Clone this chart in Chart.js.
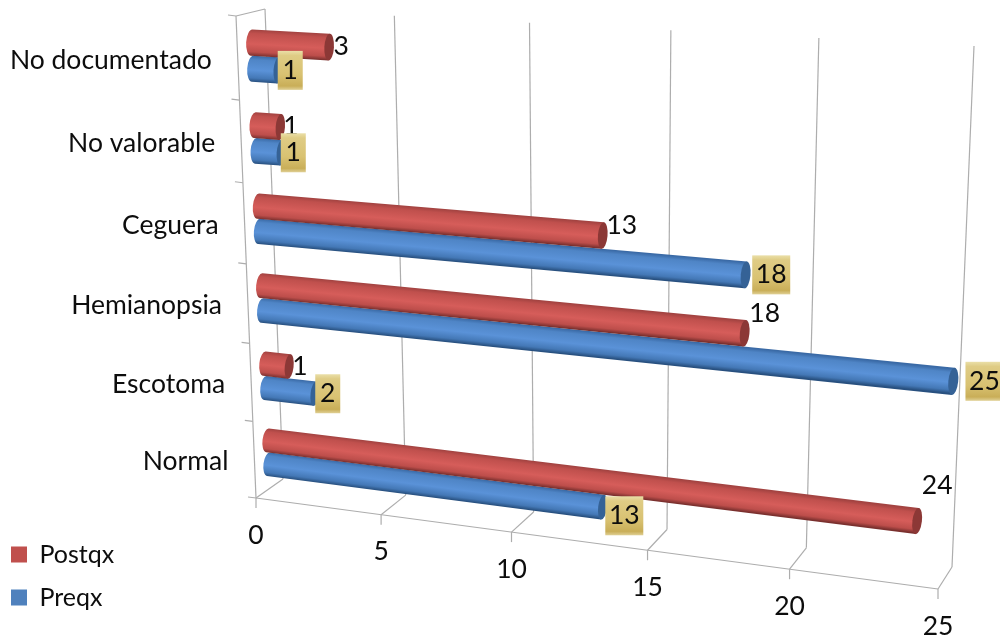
<!DOCTYPE html>
<html><head><meta charset="utf-8">
<script src="https://cdn.jsdelivr.net/npm/chart.js@4"></script>
<style>html,body{margin:0;padding:0;background:#fff}canvas{display:block}</style>
</head><body><canvas id="c" width="1000" height="636"></canvas>
<script>
const categories = ["No documentado","No valorable","Ceguera","Hemianopsia","Escotoma","Normal"];
const postqx = [3,1,13,18,1,24];
const preqx  = [1,1,18,25,2,13];
const valueTicks = [0,5,10,15,20,25];

// 3D frame: corners of the front and back planes of the box, [bottom-left, bottom-right, top-right, top-left]
const FRONT = [[256,498],[938,589],[960,55],[236,16]];
const BACK  = [[283,479],[952,567],[974,46],[265,9]];
const BARPLANE = 0.5;
const BAR_DROP = 1.5;
const FONT = "Lato, Carlito, 'Open Sans', sans-serif";

function makeH(q){
  const [[x0,y0],[x1,y1],[x2,y2],[x3,y3]] = q;
  const dx1=x1-x2,dx2=x3-x2,sx=x0-x1+x2-x3,dy1=y1-y2,dy2=y3-y2,sy=y0-y1+y2-y3;
  const den=dx1*dy2-dx2*dy1;
  const g=(sx*dy2-dx2*sy)/den,h=(dx1*sy-sx*dy1)/den;
  const a=x1-x0+g*x1,b=x3-x0+h*x3,d=y1-y0+g*y1,e=y3-y0+h*y3;
  return (u,v)=>{const w=g*u+h*v+1;return [(a*u+b*v+x0)/w,(d*u+e*v+y0)/w];};
}
const mix=(p,q,t)=>[p[0]+(q[0]-p[0])*t,p[1]+(q[1]-p[1])*t];
const hF=makeH(FRONT), hB=makeH(BACK);
const hM=makeH(FRONT.map((p,i)=>{const m=mix(p,BACK[i],BARPLANE);return [m[0],m[1]+BAR_DROP];}));

function uv(chart,px,py){
  const a=chart.chartArea;
  return [(px-a.left)/(a.right-a.left),(a.bottom-py)/(a.bottom-a.top)];
}
function line(ctx,p,q){ctx.beginPath();ctx.moveTo(p[0],p[1]);ctx.lineTo(q[0],q[1]);ctx.stroke();}

const frame3d={
  id:'frame3d',
  beforeDatasetsDraw(chart){
    const ctx=chart.ctx,xs=chart.scales.x,a=chart.chartArea,n=categories.length;
    ctx.save();ctx.strokeStyle='#adadad';ctx.lineWidth=1.2;
    xs.ticks.forEach(t=>{
      const u=uv(chart,xs.getPixelForValue(t.value),a.bottom)[0];
      line(ctx,hB(u,0),hB(u,1));
      line(ctx,hF(u,0),hB(u,0));
      const f=hF(u,0);line(ctx,f,[f[0],f[1]+10]);
    });
    line(ctx,hF(0,0),hF(1,0));
    line(ctx,hF(0,0),hF(0,1));
    line(ctx,hF(0,1),hB(0,1));
    for(let i=0;i<=n;i++){const f=hF(0,i/n);line(ctx,f,[f[0]-8,f[1]-1]);}
    ctx.restore();
  },
  beforeDatasetDraw(chart,args){
    const ctx=chart.ctx,meta=args.meta;
    const isRed=args.index===0;
    const stops=isRed?['#a34341','#c0504d','#d65d5a','#bd4e4b','#7a302e']:['#3a6aa6','#4f85c6','#5a92d8','#4478b6','#28507f'];
    const cap=isRed?'#8c3836':'#356296';
    meta.data.forEach(el=>{
      const p=el.getProps(['x','y','base','height'],true);
      const [u0,v]=uv(chart,p.base,p.y),[u1]=uv(chart,p.x,p.y);
      const dv=p.height/(chart.chartArea.bottom-chart.chartArea.top)/2;
      const A=hM(u0,v),B=hM(u1,v);
      const rA=Math.hypot(...[0,1].map(i=>hM(u0,v+dv)[i]-hM(u0,v-dv)[i]))/2;
      const rB=Math.hypot(...[0,1].map(i=>hM(u1,v+dv)[i]-hM(u1,v-dv)[i]))/2;
      const L=Math.hypot(B[0]-A[0],B[1]-A[1]),ax=(B[0]-A[0])/L,ay=(B[1]-A[1])/L,nx=-ay,ny=ax;
      const rot=Math.atan2(ay,ax);
      const g=ctx.createLinearGradient(A[0]-nx*rA,A[1]-ny*rA,A[0]+nx*rA,A[1]+ny*rA);
      [0,.15,.55,.85,1].forEach((s,i)=>g.addColorStop(s,stops[i]));
      ctx.save();
      ctx.fillStyle=g;
      ctx.beginPath();
      ctx.ellipse(A[0],A[1],rA*0.42,rA,rot,Math.PI/2,Math.PI*1.5);
      ctx.lineTo(B[0]-nx*rB,B[1]-ny*rB);
      ctx.lineTo(B[0]+nx*rB,B[1]+ny*rB);
      ctx.closePath();ctx.fill();
      ctx.fillStyle=cap;
      ctx.beginPath();ctx.ellipse(B[0],B[1],rB*0.36,rB,rot,0,Math.PI*2);ctx.fill();
      ctx.restore();
    });
    return false;
  },
  afterDatasetsDraw(chart){
    const ctx=chart.ctx,xs=chart.scales.x,ys=chart.scales.y,a=chart.chartArea;
    ctx.save();ctx.fillStyle='#0d0d0d';ctx.textBaseline='middle';
    ctx.font='26.5px '+FONT;
    // category labels
    ctx.textAlign='right';
    ys.ticks.forEach((t,i)=>{
      const v=uv(chart,a.left,ys.getPixelForTick(i))[1];
      const f=hF(0,v);
      ctx.fillText(categories[t.value],f[0]-26,f[1]+2);
    });
    // value labels
    ctx.textAlign='center';
    xs.ticks.forEach(t=>{
      const u=uv(chart,xs.getPixelForValue(t.value),a.bottom)[0];
      const f=hF(u,0);
      ctx.fillText(String(t.value),f[0],f[1]+37);
    });
    const end=(ds,i)=>{
      const el=chart.getDatasetMeta(ds).data[i].getProps(['x','y'],true);
      const [u,v]=uv(chart,el.x,el.y);return hM(u,v);
    };
    // Postqx labels
    postqx.forEach((val,i)=>{
      const B=end(0,i);
      ctx.fillText(String(val),B[0]+Math.min(20,10+0.7*val),B[1]-0.0625*val*val);
    });
    // Preqx labels on gold
    preqx.forEach((val,i)=>{
      const B=end(1,i),txt=String(val),w=val>9?38:25,h=39;
      const cx=B[0]+12+0.8*(val-1),cy=B[1]+Math.max(0,(B[1]-440)*0.13);
      const g=ctx.createLinearGradient(0,cy-h/2,0,cy+h/2);
      g.addColorStop(0,'#eadfa8');g.addColorStop(.12,'#dfcc85');g.addColorStop(.6,'#d9c272');g.addColorStop(.9,'#c9ae58');g.addColorStop(1,'#e0d095');
      ctx.fillStyle=g;ctx.fillRect(cx-w/2,cy-h/2,w,h);
      ctx.fillStyle='#0d0d0d';ctx.fillText(txt,cx,cy);
    });
    ctx.restore();
  }
};

new Chart(document.getElementById('c'),{
  type:'bar',
  data:{labels:categories,datasets:[
    {label:'Postqx',data:postqx,backgroundColor:'#c0504d',borderWidth:0,categoryPercentage:0.63,barPercentage:1},
    {label:'Preqx',data:preqx,backgroundColor:'#4f81bd',borderWidth:0,categoryPercentage:0.63,barPercentage:1}
  ]},
  options:{
    indexAxis:'y',responsive:false,animation:false,
    layout:{padding:{bottom:8,left:-7}},
    plugins:{
      tooltip:{enabled:false},
      legend:{position:'left',align:'end',labels:{boxWidth:16,boxHeight:16,padding:18,color:'#0d0d0d',font:{family:FONT,size:25}}}
    },
    scales:{
      x:{min:0,max:25,afterBuildTicks(s){s.ticks=valueTicks.map(value=>({value}));},grid:{display:false,drawTicks:false},border:{display:false},ticks:{display:false}},
      y:{grid:{display:false,drawTicks:false},border:{display:false},ticks:{display:false}}
    }
  },
  plugins:[frame3d]
});
</script></body></html>
